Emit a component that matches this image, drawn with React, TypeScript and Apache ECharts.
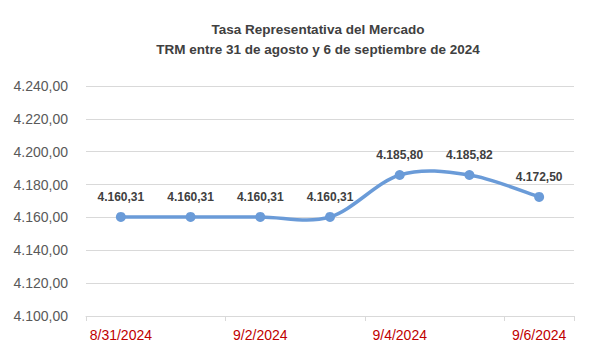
import React, { useEffect, useRef } from "react";
import * as echarts from "echarts";

const titleLines = ["Tasa Representativa del Mercado", "TRM entre 31 de agosto y 6 de septiembre de 2024"];
const categories = ["8/31/2024", "9/1/2024", "9/2/2024", "9/3/2024", "9/4/2024", "9/5/2024", "9/6/2024"];
const trmValues = [4160.31, 4160.31, 4160.31, 4160.31, 4185.8, 4185.82, 4172.5];
const yMin = 4100;
const yMax = 4240;
const yStep = 20;

const LINE_COLOR = "#6A9BD8";

function fmt(v: number): string {
  const fixed = v.toFixed(2);
  const [intPart, dec] = fixed.split(".");
  const withDots = intPart.replace(/\B(?=(\d{3})+(?!\d))/g, ".");
  return withDots + "," + dec;
}

export default function App() {
  const ref = useRef<HTMLDivElement>(null);
  useEffect(() => {
    if (!ref.current) return;
    const chart = echarts.init(ref.current, null, { renderer: "svg" });
    chart.setOption({
      animation: false,
      backgroundColor: "#ffffff",
      title: {
        text: titleLines.join("\n"),
        left: 313,
        top: 14,
        textAlign: "center",
        textStyle: {
          fontFamily: "Liberation Sans",
          fontSize: 13.5,
          fontWeight: "bold",
          color: "#404040",
          lineHeight: 20,
        },
      },
      grid: { left: 86, right: 27, top: 86, bottom: 35, containLabel: false },
      xAxis: {
        type: "category",
        data: categories,
        boundaryGap: true,
        axisLine: { lineStyle: { color: "#d9d9d9", width: 1 } },
        axisTick: { show: true, length: 5, interval: 1, lineStyle: { color: "#d9d9d9" } },
        axisLabel: {
          interval: 1,
          color: "#C00000",
          fontFamily: "Liberation Sans",
          fontSize: 14,
          margin: 12,
        },
      },
      yAxis: {
        type: "value",
        min: yMin,
        max: yMax,
        interval: yStep,
        axisLine: { show: false },
        axisTick: { show: false },
        splitLine: { lineStyle: { color: "#d9d9d9", width: 1 } },
        axisLabel: {
          color: "#595959",
          fontFamily: "Liberation Sans",
          fontSize: 14,
          margin: 18,
          formatter: (v: number) => fmt(v),
        },
      },
      series: [
        {
          type: "custom",
          data: trmValues.map((v, i) => [i, v]),
          z: 2,
          silent: true,
          renderItem: (params: any, api: any) => {
            if (params.dataIndex !== 0) return { type: "group", children: [] };
            const pts = trmValues.map((v, i) => api.coord([i, v]));
            const n = pts.length;
            let d = `M${pts[0][0]},${pts[0][1]}`;
            for (let i = 0; i < n - 1; i++) {
              const p0 = pts[Math.max(0, i - 1)];
              const p1 = pts[i];
              const p2 = pts[i + 1];
              const p3 = pts[Math.min(n - 1, i + 2)];
              const c1x = p1[0] + (p2[0] - p0[0]) / 6;
              const c1y = p1[1] + (p2[1] - p0[1]) / 6;
              const c2x = p2[0] - (p3[0] - p1[0]) / 6;
              const c2y = p2[1] - (p3[1] - p1[1]) / 6;
              d += ` C${c1x},${c1y} ${c2x},${c2y} ${p2[0]},${p2[1]}`;
            }
            return {
              type: "path",
              shape: { pathData: d },
              style: { fill: "none", stroke: LINE_COLOR, lineWidth: 3.5, lineCap: "round", lineJoin: "round" },
            };
          },
        },
        {
          type: "line",
          data: trmValues,
          z: 3,
          symbol: "circle",
          symbolSize: 10,
          lineStyle: { width: 0, opacity: 0 },
          itemStyle: { color: LINE_COLOR },
          label: {
            show: true,
            position: "top",
            distance: 9,
            color: "#404040",
            fontFamily: "Liberation Sans",
            fontSize: 12,
            fontWeight: "bold",
            formatter: (p: any) => fmt(p.value),
          },
        },
      ],
    });
    return () => chart.dispose();
  }, []);
  return <div ref={ref} style={{ width: 601, height: 351, margin: -8 }} />;
}
